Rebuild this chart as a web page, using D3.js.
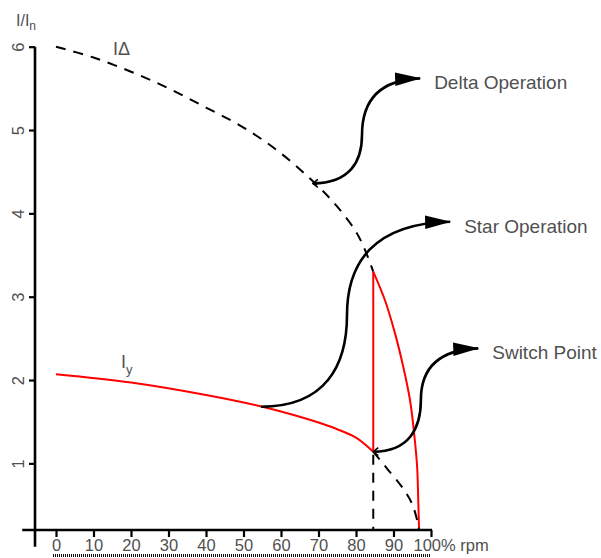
<!DOCTYPE html>
<html><head><meta charset="utf-8">
<script src="https://cdn.jsdelivr.net/npm/d3@7"></script>
<style>
body{margin:0;background:#fff}
svg{display:block}
text{font-family:"Liberation Sans",Arial,Helvetica,sans-serif}
</style>
</head><body>
<svg id="c" width="601" height="558"></svg>
<script>
// ---- data (rpm in %, current in I/In) ----
const deltaRpm = [0, 10, 20, 30, 40, 50, 60, 70, 75, 80, 82.5, 84.6];
const deltaI   = [6.0, 5.87, 5.7, 5.5, 5.27, 5.03, 4.72, 4.32, 4.08, 3.78, 3.55, 3.30];

const starRpm = [0, 20, 40, 55, 65, 70, 75, 80, 84.6];
const starI   = [2.07, 1.97, 1.82, 1.68, 1.56, 1.49, 1.41, 1.31, 1.14];

const runRpm = [84.6, 87.7, 90.4, 92.6, 94.4, 95.5, 96.3, 96.6, 96.8];
const runI   = [3.30, 2.96, 2.56, 2.16, 1.76, 1.36, 0.96, 0.56, 0.22];

const tailRpm = [84.6, 88.6, 92.2, 94.9, 96.5, 96.8];
const tailI   = [1.14, 0.92, 0.72, 0.52, 0.28, 0.2];

const switchRpm = 84.6, switchLow = 1.14, switchHigh = 3.30;
const axisLevel = 0.2;      // I/In level where rpm axis is drawn
const yAxisRpm = -5.6;      // rpm position of I/In axis
const xAxisStart = -9;

const xTicks = [0, 10, 20, 30, 40, 50, 60, 70, 80, 90, 100];
const xTickLabels = ["0","10","20","30","40","50","60","70","80","90","100% rpm"];
const yTicks = [1, 2, 3, 4, 5, 6];

const annLabels = ["Delta Operation", "Star Operation", "Switch Point"];
const annFrom = [[68.5, 4.36], [54.7, 1.68], [84.6, 1.14]];
const annVia  = [[81.6, 4.94], [77.6, 2.78], [97.3, 1.76]];
const annTo   = [[97.1, 5.62], [105.1, 3.90], [112.6, 2.38]];
const annStartMark = [true, false, true];

// ---- scales ----
const x = d3.scaleLinear().domain([0, 100]).range([56, 431]);
const y = d3.scaleLinear().domain([0, 6]).range([546.7, 46.7]);

const svg = d3.select("#c");
const defs = svg.append("defs");
defs.append("marker").attr("id","head").attr("markerUnits","userSpaceOnUse")
  .attr("viewBox","0 -8 28 16").attr("markerWidth",28).attr("markerHeight",16)
  .attr("refX",25).attr("refY",0).attr("orient","auto")
  .append("path").attr("d","M0,-6.8L26,0L0,6.8Z").attr("fill","#000");
defs.append("marker").attr("id","tail").attr("markerUnits","userSpaceOnUse")
  .attr("viewBox","-1 -6 10 12").attr("markerWidth",10).attr("markerHeight",12)
  .attr("refX",0).attr("refY",0).attr("orient","auto")
  .append("path").attr("d","M5,-4L0,0L5,4").attr("fill","none").attr("stroke","#000").attr("stroke-width",1.6);

const gray = "#505050";

// ---- axes ----
const yAxis = d3.axisLeft(y).tickValues(yTicks).tickSize(6).tickFormat(d3.format("d"));
const gy = svg.append("g").attr("transform", `translate(${x(yAxisRpm)},0)`).call(yAxis);
gy.select(".domain").remove();
gy.selectAll(".tick line").attr("stroke","#000").attr("stroke-width",2.2);
gy.selectAll(".tick text").attr("x",0).attr("y",0).attr("dy",0)
  .attr("transform","translate(-11,0) rotate(-90)").attr("text-anchor","middle")
  .attr("fill",gray).attr("font-size",16.5);
svg.append("line").attr("x1",x(yAxisRpm)).attr("x2",x(yAxisRpm))
  .attr("y1",y(6)).attr("y2",y(0)).attr("stroke","#000").attr("stroke-width",2.6);

const xAxis = d3.axisBottom(x).tickValues(xTicks).tickSize(7)
  .tickFormat((d,i) => xTickLabels[i]);
const gx = svg.append("g").attr("transform", `translate(0,${y(axisLevel)})`).call(xAxis);
gx.select(".domain").remove();
gx.selectAll(".tick line").attr("stroke","#000").attr("stroke-width",2.2);
gx.selectAll(".tick text").attr("y",20.5).attr("dy",0).attr("fill",gray).attr("font-size",16.5);
gx.selectAll(".tick text").filter((d,i) => i === xTicks.length-1)
  .attr("text-anchor","start").attr("x",-18);
svg.append("line").attr("x1",x(xAxisStart)).attr("x2",x(100)+1)
  .attr("y1",y(axisLevel)).attr("y2",y(axisLevel)).attr("stroke","#000").attr("stroke-width",2.6);

// dotted underline under the rpm tick labels
svg.append("line").attr("x1",53).attr("x2",x(100)).attr("y1",555.5).attr("y2",555.5)
  .attr("stroke","#111").attr("stroke-width",3).attr("stroke-dasharray","1,1")
  .attr("shape-rendering","crispEdges");

// axis title
const yt = svg.append("text").attr("x",16).attr("y",26).attr("fill",gray).attr("font-size",16);
yt.append("tspan").text("I/I");
yt.append("tspan").attr("font-size",12).attr("dy",4).text("n");

// ---- curves ----
const line = d3.line().x(d => x(d[0])).y(d => y(d[1])).curve(d3.curveCatmullRom.alpha(0.5));
const zip = (a,b) => a.map((v,i) => [v, b[i]]);

svg.append("path").attr("d", line(zip(deltaRpm, deltaI)))
  .attr("fill","none").attr("stroke","#000").attr("stroke-width",2).attr("stroke-dasharray","10,8");
svg.append("path").attr("d", line(zip(starRpm, starI)))
  .attr("fill","none").attr("stroke","#ff0000").attr("stroke-width",2);
svg.append("path").attr("d", d3.line().x(d=>x(d[0])).y(d=>y(d[1])).curve(d3.curveMonotoneY)(zip(runRpm, runI)))
  .attr("fill","none").attr("stroke","#ff0000").attr("stroke-width",2);
svg.append("path").attr("d", line(zip(tailRpm, tailI)))
  .attr("fill","none").attr("stroke","#000").attr("stroke-width",2).attr("stroke-dasharray","10,8");
svg.append("line").attr("x1",x(switchRpm)).attr("x2",x(switchRpm))
  .attr("y1",y(switchHigh)).attr("y2",y(switchLow)).attr("stroke","#ff0000").attr("stroke-width",2);
svg.append("line").attr("x1",x(switchRpm)).attr("x2",x(switchRpm))
  .attr("y1",y(switchLow)+3).attr("y2",y(axisLevel)).attr("stroke","#000").attr("stroke-width",2)
  .attr("stroke-dasharray","10,8");

// curve labels
const ld = svg.append("text").attr("x",113).attr("y",55).attr("fill",gray).attr("font-size",18);
ld.text("IΔ");
const ly = svg.append("text").attr("x",121).attr("y",368).attr("fill",gray).attr("font-size",18);
ly.append("tspan").text("I");
ly.append("tspan").attr("font-size",13).attr("dy",6).text("y");

// ---- annotation arrows ----
annLabels.forEach((lab, i) => {
  const p0 = [x(annFrom[i][0]), y(annFrom[i][1])];
  const pm = [x(annVia[i][0]), y(annVia[i][1])];
  const p1 = [x(annTo[i][0]), y(annTo[i][1])];
  const p = d3.path();
  p.moveTo(p0[0], p0[1]);
  p.bezierCurveTo(p0[0] + 0.75*(pm[0]-p0[0]), p0[1], pm[0], pm[1] + 0.55*(p0[1]-pm[1]), pm[0], pm[1]);
  p.bezierCurveTo(pm[0], pm[1] - 0.55*(pm[1]-p1[1]), p1[0] - 0.75*(p1[0]-pm[0]), p1[1]+1.5, p1[0], p1[1]);
  const el = svg.append("path").attr("d", p.toString()).attr("fill","none")
    .attr("stroke","#000").attr("stroke-width",2.6).attr("marker-end","url(#head)");
  if (annStartMark[i]) el.attr("marker-start","url(#tail)");
  svg.append("text").attr("x", p1[0] + 14).attr("y", p1[1] + 11)
    .attr("fill",gray).attr("font-size",19).text(lab);
});
</script>
</body></html>
